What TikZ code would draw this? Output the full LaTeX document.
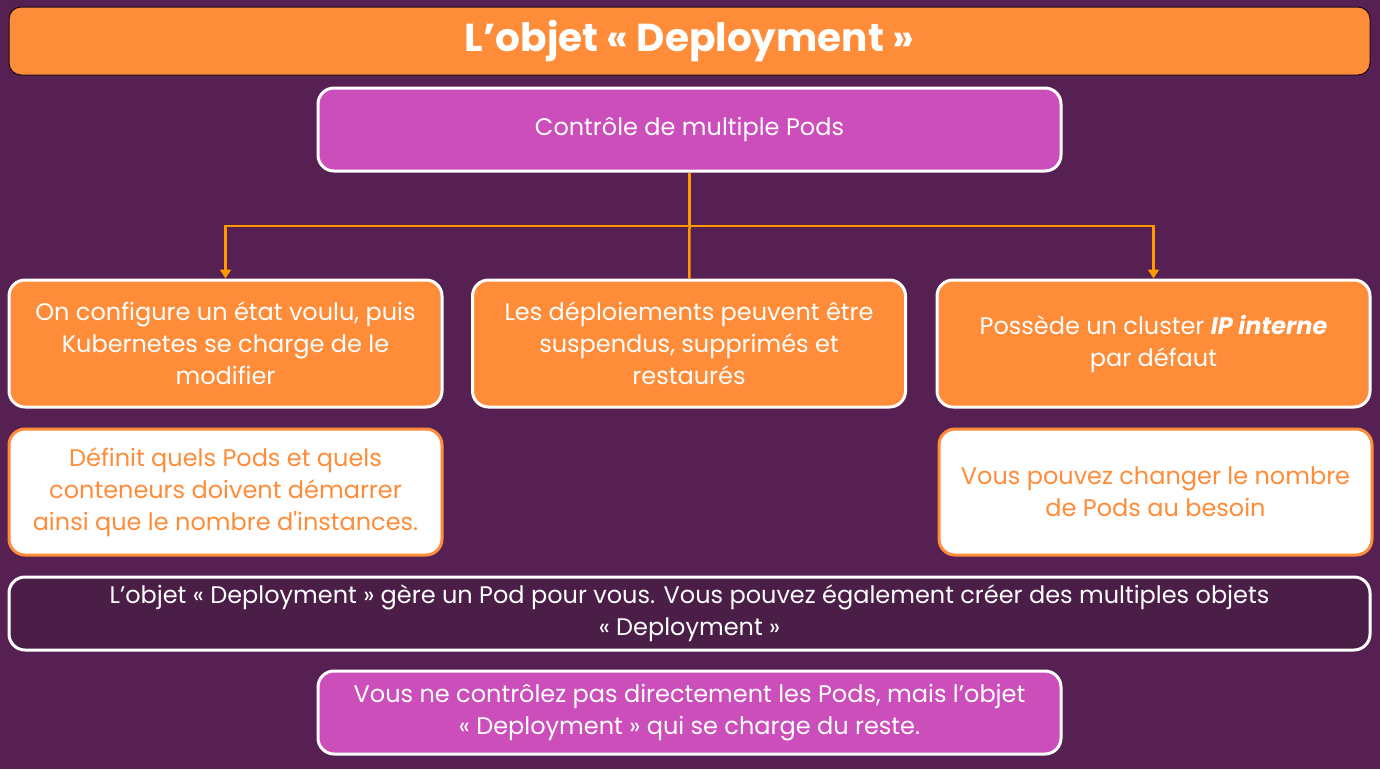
\documentclass[tikz,border=0pt]{standalone}
\usepackage{fontspec}
\setmainfont{Poppins}[Ligatures=TeXOff]
\usepackage{tikz}
\usetikzlibrary{arrows.meta, positioning}
\definecolor{fond}{HTML}{562052}
\definecolor{orangebox}{HTML}{FF8C38}
\definecolor{magentabox}{HTML}{CC4EBB}
\definecolor{sombre}{HTML}{4B1E48}
\definecolor{trait}{HTML}{FF9900}
\tikzset{
  boite/.style={draw=white, line width=3pt, rounded corners=16pt, align=center, text=white,
    font=\fontsize{24}{32}\selectfont, inner sep=0pt},
  orangeb/.style={boite, fill=orangebox, minimum width=433pt, minimum height=127pt},
  blancheb/.style={boite, fill=white, draw=orangebox, text=orangebox, minimum width=433pt, minimum height=126pt},
  lien/.style={draw=trait, line width=2.5pt},
}

\begin{document}
\begin{tikzpicture}[x=1pt, y=-1pt]
\fill[fond] (0,0) rectangle (1380,769);
\node[boite, fill=orangebox, draw=black!70!fond, line width=1pt, rounded corners=12pt, minimum width=1361pt, minimum height=68pt, font=\fontsize{39}{44}\selectfont\bfseries] (titre) at (689.5,41) {L’objet «~Deployment~»};
\node[boite, fill=magentabox, minimum width=743pt, minimum height=83pt] (controle) at (689.5,129.5) {Contrôle de multiple Pods};
\node[orangeb] (config) at (225.5,343.5) {On configure un état voulu, puis\\Kubernetes se charge de le\\modifier};
\node[orangeb] (suspendus) at (689,343.5) {Les déploiements peuvent être\\suspendus, supprimés et\\restaurés};
\node[orangeb] (cluster) at (1153.5,343.5) {Possède un cluster \textbf{\textit{IP interne}}\\par défaut};
\node[blancheb] (definit) at (225.5,492) {Définit quels Pods et quels\\conteneurs doivent démarrer\\ainsi que le nombre d'instances.};
\node[blancheb] (nombre) at (1155.5,492) {Vous pouvez changer le nombre\\de Pods au besoin};
\node[boite, fill=sombre, minimum width=1361pt, minimum height=73pt] (gere) at (689.5,613.5) {L’objet «~Deployment~» gère un Pod pour vous. Vous pouvez également créer des multiples objets\\«~Deployment~»};
\node[boite, fill=magentabox, minimum width=743pt, minimum height=83pt] (reste) at (689.5,712.5) {Vous ne contrôlez pas directement les Pods, mais l’objet\\«~Deployment~» qui se charge du reste.};
\coordinate (branche) at (689.5,226);
\draw[lien] (controle) -- (branche);
\draw[lien, -{Triangle[width=11pt,length=9pt]}] (branche) -| (config);
\draw[lien, -{Triangle[width=11pt,length=9pt]}] (branche) -| (cluster);
\draw[lien] (branche) -- (suspendus);
\end{tikzpicture}
\end{document}
